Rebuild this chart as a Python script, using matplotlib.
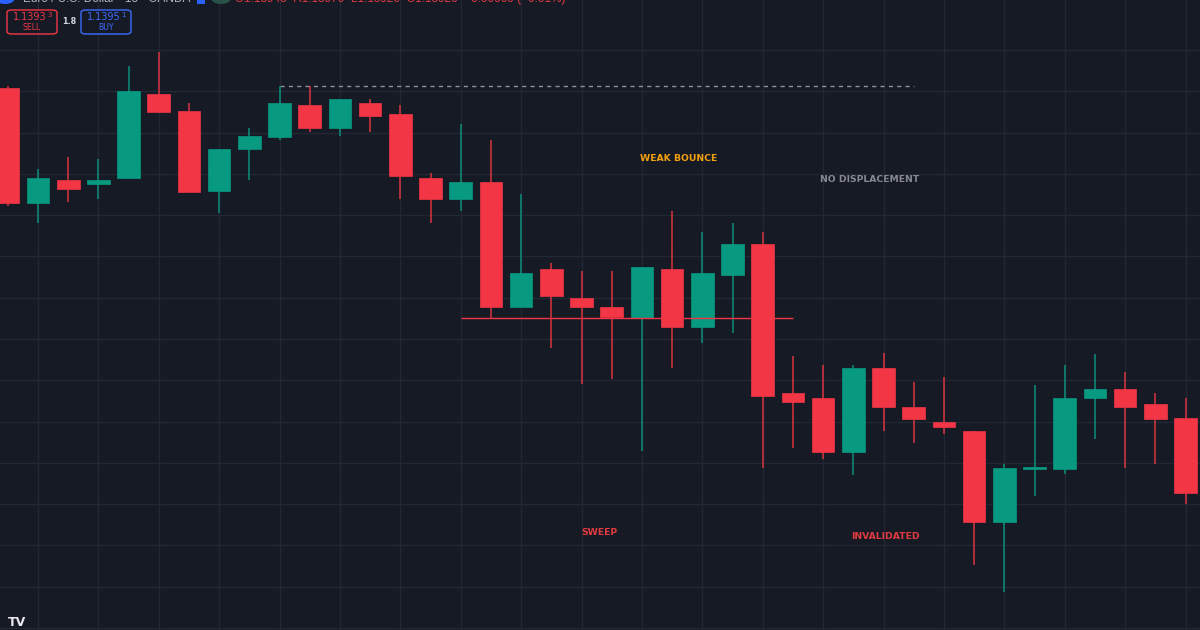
import matplotlib
matplotlib.use("Agg")
import matplotlib.pyplot as plt
from matplotlib.patches import FancyBboxPatch, Circle, Rectangle
import numpy as np

# ---- data (EUR/USD, 15m) ----
opens = [1.14807, 1.14530, 1.14586, 1.14575, 1.14590, 1.14793, 1.14753, 1.14558, 1.14659, 1.14690,
         1.14766, 1.14710, 1.14772, 1.14746, 1.14591, 1.14539, 1.14580, 1.14278, 1.14370, 1.14298,
         1.14278, 1.14251, 1.14370, 1.14228, 1.14354, 1.14430, 1.14070, 1.14057, 1.13927, 1.14129,
         1.14034, 1.13998, 1.13977, 1.13756, 1.13886, 1.13886, 1.14056, 1.14078, 1.14042, 1.14008]
highs = [1.14812, 1.14611, 1.14641, 1.14636, 1.14861, 1.14895, 1.14772, 1.14661, 1.14711, 1.14812,
         1.14812, 1.14781, 1.14780, 1.14766, 1.14601, 1.14720, 1.14682, 1.14551, 1.14384, 1.14364,
         1.14364, 1.14375, 1.14510, 1.14458, 1.14481, 1.14458, 1.14158, 1.14138, 1.14138, 1.14167,
         1.14095, 1.14108, 1.13977, 1.13896, 1.14088, 1.14138, 1.14163, 1.14119, 1.14068, 1.14056]
lows = [1.14522, 1.14481, 1.14531, 1.14539, 1.14590, 1.14750, 1.14555, 1.14506, 1.14585, 1.14682,
        1.14702, 1.14692, 1.14701, 1.14538, 1.14480, 1.14510, 1.14250, 1.14277, 1.14179, 1.14090,
        1.14103, 1.13928, 1.14130, 1.14189, 1.14215, 1.13888, 1.13937, 1.13908, 1.13870, 1.13978,
        1.13948, 1.13969, 1.13652, 1.13588, 1.13819, 1.13873, 1.13958, 1.13888, 1.13897, 1.13799]
closes = [1.14530, 1.14591, 1.14564, 1.14585, 1.14801, 1.14750, 1.14555, 1.14661, 1.14691, 1.14772,
          1.14710, 1.14781, 1.14740, 1.14594, 1.14539, 1.14580, 1.14278, 1.14359, 1.14303, 1.14278,
          1.14254, 1.14375, 1.14228, 1.14359, 1.14430, 1.14062, 1.14047, 1.13927, 1.14129, 1.14036,
          1.14006, 1.13986, 1.13756, 1.13887, 1.13888, 1.14057, 1.14078, 1.14036, 1.14007, 1.13826]

swing_high = 1.14812      # dashed level
swing_high_span = (9, 30)
sweep_level = 1.14250     # swept low
sweep_span = (15, 26)

labels = ["WEAK BOUNCE", "NO DISPLACEMENT", "SWEEP", "INVALIDATED"]
label_x = [22.2, 28.55, 19.58, 29.06]
label_y = [1.14636, 1.14585, 1.13730, 1.13722]
label_colors = ["#f5a00f", "#868993", "#e23a40", "#e23a40"]

sell_price, buy_price, spread = "1.1393", "1.1395", "1.8"
sell_pip, buy_pip = "3", "1"
title = "Euro / U.S. Dollar · 15 · OANDA"
ohlc_text = "O1.13943  H1.13970  L1.13920  C1.13926  −0.00009 (−0.01%)"

# ---- style ----
BG = "#161a25"
GRID = "#232633"
UP = "#089981"
DOWN = "#f23645"

fig = plt.figure(figsize=(12, 6.3), dpi=100, facecolor=BG)
ax = fig.add_axes([0, 0, 1, 1], facecolor=BG)

n = len(opens)
x = np.arange(n)
o = np.array(opens); h = np.array(highs); l = np.array(lows); c = np.array(closes)
up = c >= o
cols = np.where(up, UP, DOWN)
wick_cols = np.where(up, "#0b8f79", "#d8343f")

ax.set_xlim(-0.258, 39.48)
ax.set_ylim(1.13495, 1.15021)

# grid
for gx in range(1, 40, 2):
    ax.axvline(gx, color=GRID, lw=1, zorder=0)
for gy in np.arange(1.135, 1.1495, 0.001):
    ax.axhline(gy, color=GRID, lw=1, zorder=0)

# wicks and bodies
ax.vlines(x, l, h, colors=wick_cols, lw=1.1, zorder=2)
body_bottom = np.minimum(o, c)
body_h = np.maximum(np.abs(c - o), 0.00003)
ax.bar(x, body_h, bottom=body_bottom, width=0.75, color=cols, edgecolor=cols, lw=0.5, zorder=3)

# levels
ax.hlines(swing_high, swing_high_span[0], swing_high_span[1], colors="#8d909a",
          linestyles=(0, (3, 3)), lw=1, zorder=1)
ax.hlines(sweep_level, sweep_span[0], sweep_span[1], colors=DOWN, lw=1, zorder=4)

# annotations
for t, lx, ly, lc in zip(labels, label_x, label_y, label_colors):
    ax.text(lx, ly, t, color=lc, fontsize=6.7, fontweight="bold", family="DejaVu Sans",
            ha="center", va="center", zorder=5)

ax.set_xticks([]); ax.set_yticks([])
for s in ax.spines.values():
    s.set_visible(False)

# ---- header overlay (figure pixel coordinates) ----
W, H = 1200, 630
def fx(px): return px / W
def fy(py): return 1 - py / H

fig.text(fx(23), fy(2), title, color="#b2b5be", fontsize=8.5, family="Liberation Sans",
         va="baseline", ha="left")
fig.text(fx(235), fy(2), ohlc_text, color="#e23a40", fontsize=8.5, family="Liberation Sans",
         va="baseline", ha="left")
fig.patches.append(Circle((fx(5), fy(-1)), 5 / H, transform=fig.transFigure, fc="#2962ff", ec="none"))
fig.patches.append(Rectangle((fx(197), fy(4)), fx(8), 7 / H, transform=fig.transFigure, fc="#2962ff", ec="none"))
fig.patches.append(Circle((fx(221), fy(-1)), 5 / H, transform=fig.transFigure, fc="#2a5248", ec="none"))

for (x0, col, price, pip, lab) in [(7, "#f23645", sell_price, sell_pip, "SELL"),
                                   (81, "#3d6bff", buy_price, buy_pip, "BUY")]:
    box = FancyBboxPatch((fx(x0), fy(34)), fx(50), 24 / H,
                         boxstyle="round,pad=0,rounding_size=0.004",
                         transform=fig.transFigure, fc=BG, ec=col, lw=1)
    fig.patches.append(box)
    fig.text(fx(x0 + 39.5), fy(17), price, color=col, fontsize=7, ha="right", va="center")
    fig.text(fx(x0 + 40), fy(15), pip, color=col, fontsize=5, ha="left", va="center")
    fig.text(fx(x0 + 25), fy(28), lab, color=col, fontsize=5.6, ha="center", va="center")
fig.text(fx(69), fy(21), spread, color="#d1d4dc", fontsize=5.8, fontweight="bold",
         ha="center", va="center")

# TradingView logo (bottom-left corner)
fig.text(fx(8), fy(629), "TV", color="#e6e8ee", fontsize=9, fontweight="bold",
         ha="left", va="bottom")

fig.savefig("out.png", dpi=100, facecolor=BG)
